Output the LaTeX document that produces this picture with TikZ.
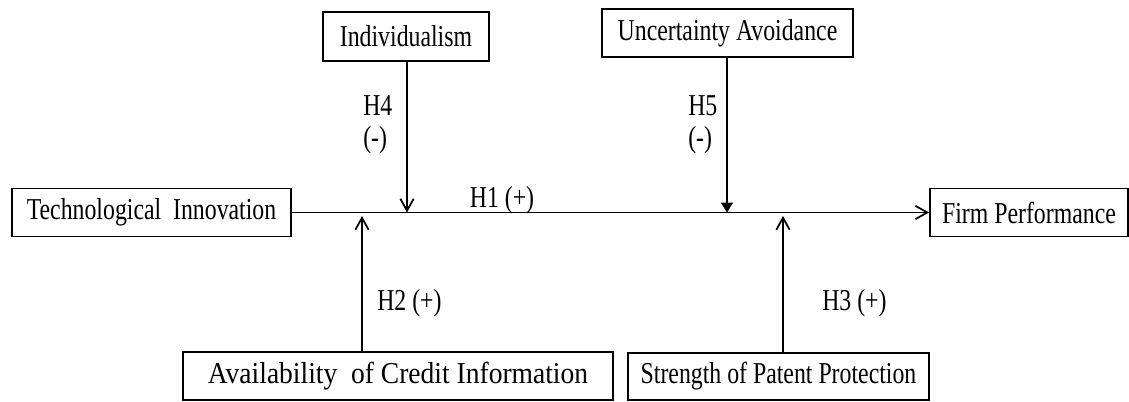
\documentclass[tikz,border=0pt]{standalone}
\usepackage{fontspec}
\setmainfont{Liberation Serif}
\usetikzlibrary{arrows.meta}
\newcommand{\tallt}[1]{\scalebox{1.02}[1.3]{#1}}
\newcommand{\widet}[1]{\scalebox{1.18}[1.3]{#1}}
\begin{document}
\begin{tikzpicture}[x=0.75pt,y=-0.75pt,
  box/.style={draw,line width=1.3pt,inner sep=0pt,font=\fontsize{17.5}{20}\selectfont},
  lbl/.style={inner sep=0pt,font=\fontsize{17.5}{20}\selectfont},
  conn/.style={line width=1.3pt},
  openarr/.style={conn,-{Straight Barb[length=9pt,width=10pt,line width=1.3pt]}},
  filledarr/.style={conn,-{Triangle[length=7.5pt,width=9pt]}}]
\useasboundingbox (0,0) rectangle (1129,401);
% boxes
\node[box,minimum width=279*0.75pt,minimum height=48*0.75pt] (ti) at (151.5,212.5) {\tallt{Technological\ \ Innovation}};
\node[box,minimum width=166*0.75pt,minimum height=49*0.75pt] (ind) at (406,36.5) {\tallt{Individualism}};
\node[box,minimum width=251*0.75pt,minimum height=48*0.75pt] (ua) at (727.5,33) {\tallt{Uncertainty Avoidance}};
\node[box,minimum width=198*0.75pt,minimum height=48*0.75pt] (fp) at (1029,212.5) {\tallt{Firm Performance}};
\node[box,minimum width=430*0.75pt,minimum height=48*0.75pt] (ac) at (398,376) {\widet{Availability\ \ of Credit Information}};
\node[box,minimum width=301*0.75pt,minimum height=47*0.75pt] (sp) at (778.5,376.5) {\tallt{Strength of Patent Protection}};
% junction points
\coordinate (j4) at (407,212.5);
\coordinate (j5) at (727,212.5);
\coordinate (j2) at (362,216);
\coordinate (j3) at (783,216);
% connectors
\draw[openarr] (ti.east) -- (fp.west);
\draw[openarr] (ind.south -| j4) -- (j4);
\draw[filledarr] (ua.south -| j5) -- (j5);
\draw[openarr] (ac.north -| j2) -- (j2);
\draw[openarr] (sp.north -| j3) -- (j3);
% labels
\node[lbl,anchor=west] (h4a) at (363,106) {\tallt{H4}};
\node[lbl,anchor=west] (h4b) at (363,140) {\tallt{(-)}};
\node[lbl,anchor=west] (h5a) at (688,106) {\tallt{H5}};
\node[lbl,anchor=west] (h5b) at (688,140) {\tallt{(-)}};
\node[lbl] (h1) at (502,200) {\tallt{H1 (+)}};
\node[lbl,anchor=west] (h2) at (377,303) {\tallt{H2 (+)}};
\node[lbl,anchor=west] (h3) at (822,303) {\tallt{H3 (+)}};
\end{tikzpicture}
\end{document}
